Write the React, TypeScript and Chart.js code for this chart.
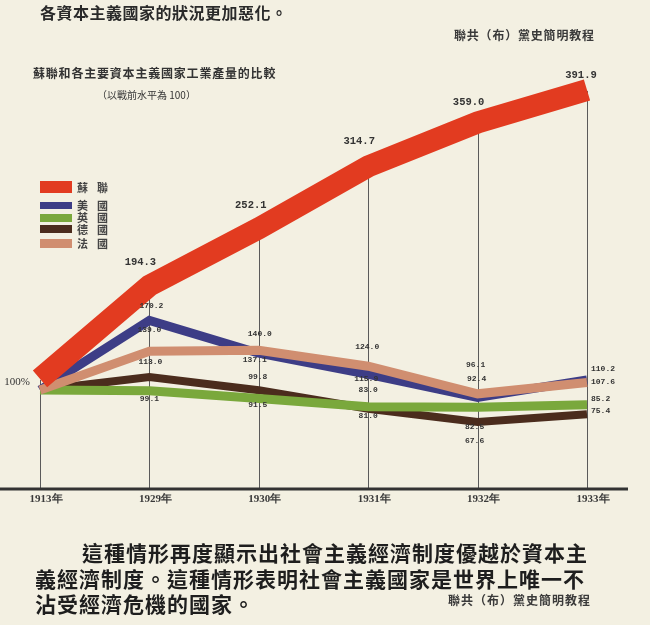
import React, { useEffect, useRef } from "react";
import { Chart, registerables } from "chart.js";

Chart.register(...registerables);

// ---- data ----
const years = ["1913年", "1929年", "1930年", "1931年", "1932年", "1933年"];
const ussr = [100, 194.3, 252.1, 314.7, 359.0, 391.9];
const usa = [100, 170.2, 137.1, 115.9, 92.4, 110.2];
const uk = [100, 99.1, 91.5, 83.0, 82.5, 85.2];
const germany = [100, 113.0, 99.8, 81.0, 67.6, 75.4];
const france = [100, 139.0, 140.0, 124.0, 96.1, 107.6];
const seriesNames = ["蘇聯", "美國", "英國", "德國", "法國"];
const seriesValues = [ussr, usa, uk, germany, france];

// ---- style / layout ----
const seriesColors = ["#e23b20", "#3d3d86", "#7aa83c", "#4b2c1d", "#d08e70"];
const seriesWidths = [22, 9, 9, 8, 9];
const seriesOrder = [0, 2, 3, 4, 1];
const BG = "#f3f0e2";
const CJK = '"Noto Sans CJK TC", "Noto Sans CJK SC", sans-serif';

// label offsets (dx, dy) in px relative to each point; null = no label
const labelOffsets: (number[] | null)[][] = [
  [[-23, -8], [-9, -34], [-8, -34], [-9, -36], [-9, -31], [-6, -26]],
  [null, [2, -14], [-4, 7], [-2, 5], [-1, -19], [4, -11]],
  [null, [0, 8], [-1, 7], [0, -17], [-3, 20], [4, -6]],
  [null, [1, -15], [-1, -13], [0, 7], [-3, 19], [4, -3]],
  [null, [0, -21], [1, -16], [-1, -19], [-2, -29], [4, 0]],
];
const legendY = [187, 205, 217.5, 229, 243];
const legendH = [12, 7, 8, 8, 9];

const overlayPlugin = {
  id: "overlay",
  beforeDatasetsDraw(chart: any) {
    const ctx = chart.ctx;
    const xs = chart.scales.x;
    const ys = chart.scales.y;
    const base = ys.getPixelForValue(0);
    ctx.save();
    ctx.strokeStyle = "#5a5a5a";
    ctx.lineWidth = 1;
    ussr.forEach((v, i) => {
      const px = Math.round(xs.getPixelForValue(i)) + 0.5;
      ctx.beginPath();
      ctx.moveTo(px, ys.getPixelForValue(v) - 10);
      ctx.lineTo(px, base);
      ctx.stroke();
    });
    ctx.strokeStyle = "#333";
    ctx.lineWidth = 3;
    ctx.beginPath();
    ctx.moveTo(0, base);
    ctx.lineTo(chart.width - 22, base);
    ctx.stroke();
    ctx.restore();
  },
  beforeDatasetDraw(chart: any, args: any) {
    if (args.index === 0) {
      chart.ctx.save();
      chart.ctx.translate(0, -11);
    }
  },
  afterDatasetDraw(chart: any, args: any) {
    if (args.index === 0) chart.ctx.restore();
  },
  afterDatasetsDraw(chart: any) {
    const ctx = chart.ctx;
    const xs = chart.scales.x;
    const ys = chart.scales.y;
    ctx.save();
    ctx.fillStyle = "#333";
    ctx.textBaseline = "middle";
    seriesValues.forEach((vals, s) => {
      vals.forEach((v, i) => {
        const off = labelOffsets[s][i];
        if (!off) return;
        const px = xs.getPixelForValue(i) + off[0];
        const py = ys.getPixelForValue(v) + off[1];
        let text = v.toFixed(1);
        if (s === 0 && i === 0) {
          text = "100%";
          ctx.font = '11px "Liberation Serif", serif';
          ctx.textAlign = "center";
        } else if (s === 0) {
          ctx.font = 'bold 10.5px "Liberation Mono", monospace';
          ctx.textAlign = "center";
        } else {
          ctx.font = 'bold 8px "Liberation Mono", monospace';
          ctx.textAlign = i === vals.length - 1 ? "left" : "center";
        }
        ctx.fillText(text, px, py);
      });
    });
    ctx.restore();
  },
};

function ChartCanvas() {
  const ref = useRef<HTMLCanvasElement | null>(null);
  useEffect(() => {
    if (!ref.current) return;
    const chart = new Chart(ref.current, {
      type: "line",
      data: {
        labels: years,
        datasets: seriesValues.map((vals, s) => ({
          label: seriesNames[s],
          data: vals,
          borderColor: seriesColors[s],
          backgroundColor: seriesColors[s],
          borderWidth: seriesWidths[s],
          borderJoinStyle: "miter" as const,
          borderCapStyle: "butt" as const,
          pointRadius: 0,
          tension: 0,
          fill: false,
          clip: false as any,
          order: seriesOrder[s],
        })),
      },
      options: {
        responsive: false,
        animation: false,
        events: [],
        layout: { padding: { left: 40, right: 63, top: 83, bottom: 114.8 } },
        plugins: {
          legend: { display: false },
          tooltip: { enabled: false },
          title: { display: false },
        },
        scales: {
          x: {
            type: "category",
            offset: false,
            grid: { display: false, drawTicks: false },
            border: { display: false },
            ticks: {
              color: "#3a3a3a",
              font: { family: '"Liberation Serif", serif', size: 11, weight: "bold" },
              padding: 4,
              labelOffset: 6,
              maxRotation: 0,
              autoSkip: false,
            },
          },
          y: { display: false, min: 0, max: 410 },
        },
      },
      plugins: [overlayPlugin],
    });
    return () => chart.destroy();
  }, []);
  return (
    <canvas
      ref={ref}
      width={650}
      height={625}
      style={{ position: "absolute", left: 0, top: 0, display: "block" }}
    />
  );
}

function Txt(props: { left: number; cy: number; size: number; weight?: number; ls?: number; color?: string; children: any }) {
  const { left, cy, size, weight = 400, ls = 0, color = "#2a2a2a", children } = props;
  return (
    <div
      style={{
        position: "absolute",
        left,
        top: cy - size / 2,
        fontSize: size,
        lineHeight: `${size}px`,
        fontWeight: weight,
        letterSpacing: ls,
        color,
        fontFamily: CJK,
        whiteSpace: "nowrap",
      }}
    >
      {children}
    </div>
  );
}

export default function App() {
  useEffect(() => {
    document.body.style.margin = "0";
    document.body.style.background = BG;
  }, []);
  return (
    <div style={{ position: "absolute", left: 0, top: 0, width: 650, height: 625, background: BG, overflow: "hidden" }}>
      <ChartCanvas />
      <Txt left={40} cy={12} size={16} weight={700} ls={0.5}>各資本主義國家的狀況更加惡化。</Txt>
      <Txt left={454} cy={35} size={12} weight={700} ls={0.8} color="#3a3a3a">聯共（布）黨史簡明教程</Txt>
      <Txt left={33} cy={73} size={12} weight={700} ls={0.8} color="#333">蘇聯和各主要資本主義國家工業產量的比較</Txt>
      <Txt left={97} cy={95} size={10} ls={0} color="#333">（以戰前水平為 100）</Txt>
      {seriesNames.map((n, s) => (
        <React.Fragment key={n}>
          <div
            style={{
              position: "absolute",
              left: 40,
              top: legendY[s] - legendH[s] / 2,
              width: 32,
              height: legendH[s],
              background: seriesColors[s],
            }}
          />
          <Txt left={77} cy={legendY[s]} size={11} weight={700} ls={9} color="#444">{n}</Txt>
        </React.Fragment>
      ))}
      <Txt left={82} cy={552} size={21} weight={700} ls={1} color="#1e1e1e">這種情形再度顯示出社會主義經濟制度優越於資本主</Txt>
      <Txt left={35} cy={578} size={21} weight={700} ls={1} color="#1e1e1e">義經濟制度。這種情形表明社會主義國家是世界上唯一不</Txt>
      <Txt left={35} cy={603} size={21} weight={700} ls={1} color="#1e1e1e">沾受經濟危機的國家。</Txt>
      <Txt left={448} cy={600} size={12} weight={700} ls={1} color="#3a3a3a">聯共（布）黨史簡明教程</Txt>
    </div>
  );
}
